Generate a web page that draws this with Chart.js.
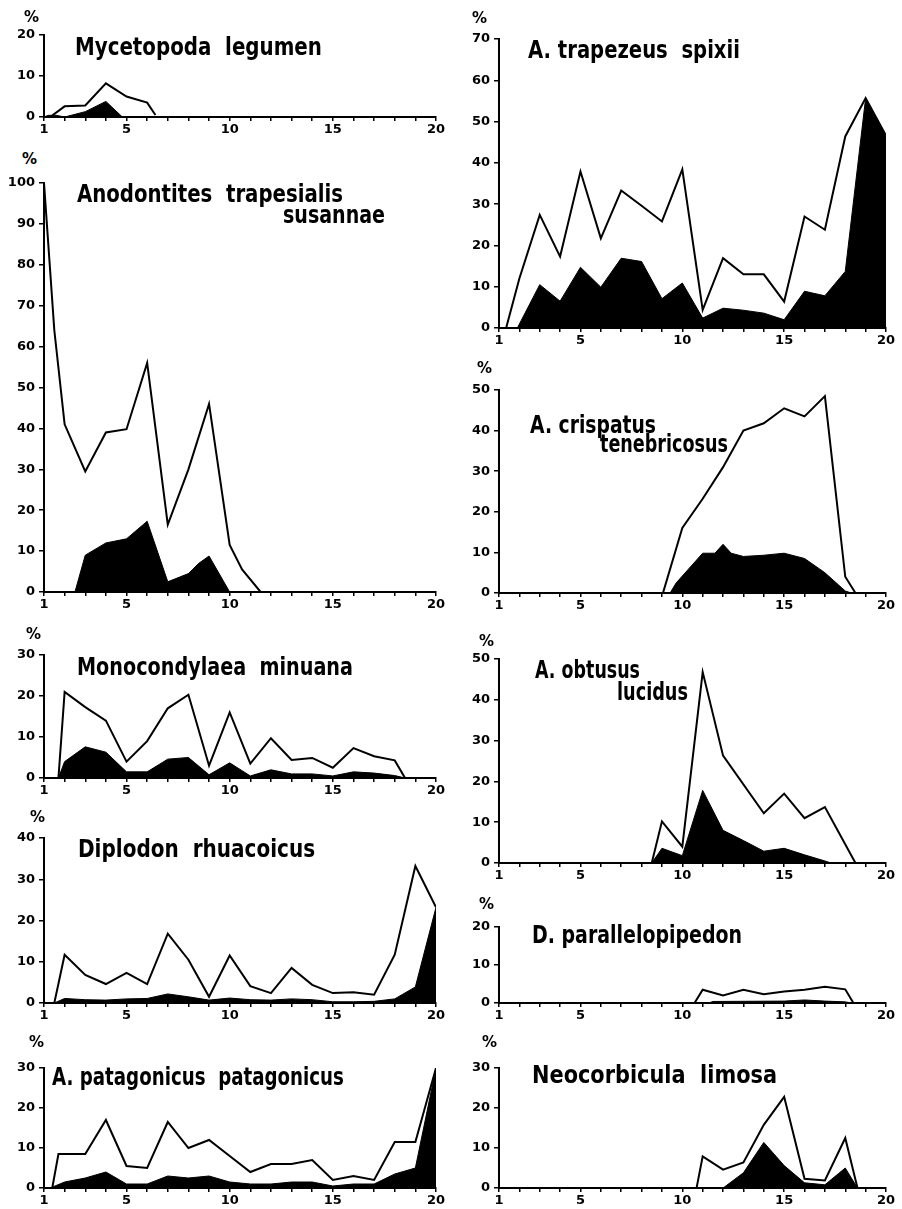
<!DOCTYPE html>
<html>
<head>
<meta charset="utf-8">
<script src="https://cdn.jsdelivr.net/npm/chart.js@4.4.0/dist/chart.umd.min.js"></script>
<style>
  body { margin: 0; background: #fff; width: 902px; height: 1209px; position: relative; overflow: hidden; }
  .panel { position: absolute; }
  .ttl { position: absolute; font-family: "DejaVu Sans Condensed", "DejaVu Sans", sans-serif; font-weight: bold;
         font-size: 24px; line-height: 24px; white-space: pre; color: #000; transform-origin: 0 0; }
  .pct { position: absolute; font: bold 15px "DejaVu Sans", sans-serif; color: #000; }
</style>
</head>
<body>
<script>
// ---- valores: [clase de talla, %] ----
const xTickLabels = [1, 5, 10, 15, 20];

const legumenTotal = [[1,0],[1.3,0],[2,2.6],[3,2.8],[4,8.2],[5,5],[6,3.5],[6.4,0.5]];
const legumenBlack = [[1,0],[1.2,0.4],[1.6,0.4],[2,0],[3,1.3],[4,3.8],[4.8,0]];

const anodTotal = [[1,100],[1.5,64],[2,41],[3,29.5],[4,39],[5,39.8],[6,56],[7,16.5],[8,30],[9,46],[10,11.5],[10.6,5.5],[11.5,0]];
const anodBlack = [[2.5,0],[3,9],[4,12],[5,13],[6,17.3],[7,2.5],[8,4.5],[8.5,7],[9,8.8],[10,0]];

const monoTotal = [[1,0],[1.7,0],[2,21],[3,17.3],[4,14],[5,4],[6,9],[7,17],[8,20.3],[9,3],[10,16],[11,3.5],[12,9.7],[13,4.4],[14,4.9],[15,2.5],[16,7.3],[17,5.3],[18,4.3],[18.5,0]];
const monoBlack = [[1.7,0],[2,4],[3,7.6],[4,6.3],[5,1.5],[6,1.5],[7,4.6],[8,5],[9,0.8],[10,3.7],[11,0.5],[12,2],[13,1],[14,1],[15,0.5],[16,1.5],[17,1.2],[18,0.6],[18.5,0]];

const diploTotal = [[1,0],[1.5,0],[2,11.7],[3,6.8],[4,4.6],[5,7.3],[6,4.6],[7,16.8],[8,10.5],[9,1.5],[10,11.5],[11,4.1],[12,2.4],[13,8.5],[14,4.4],[15,2.4],[16,2.6],[17,2],[18,11.7],[19,33.2],[20,23.2]];
const diploBlack = [[1.5,0],[2,1.1],[3,0.8],[4,0.7],[5,1],[6,1.1],[7,2.2],[8,1.5],[9,0.7],[10,1.2],[11,0.8],[12,0.7],[13,1],[14,0.8],[15,0.3],[16,0.3],[17,0.4],[18,1],[19,3.9],[20,23.2]];

const pataTotal = [[1,0],[1.4,0],[1.7,8.5],[3,8.5],[4,17],[5,5.5],[6,5],[7,16.5],[8,10],[9,12],[10,8],[11,4],[12,6],[13,6],[14,7],[15,2],[16,3],[17,2],[18,11.5],[19,11.5],[20,30]];
const pataBlack = [[1.3,0],[2,1.5],[3,2.5],[4,4],[5,1],[6,1],[7,3],[8,2.5],[9,3],[10,1.5],[11,1],[12,1],[13,1.5],[14,1.5],[15,0.5],[16,1],[17,1],[18,3.5],[19,5],[20,30]];

const trapTotal = [[1,0],[1.35,0],[2,12],[3,27.4],[4,17.3],[5,37.9],[6,21.7],[7,33.3],[8,29.6],[9,25.8],[10,38.4],[11,4.4],[12,16.9],[13,13],[14,13],[15,6.4],[16,27],[17,23.8],[18,46.4],[19,55.7],[20,46.6]];
const trapBlack = [[1.9,0],[3,10.5],[4,6.5],[5,14.7],[6,9.9],[7,16.9],[8,16.1],[9,7.1],[10,10.9],[11,2.4],[12,4.8],[13,4.3],[14,3.6],[15,2],[16,8.9],[17,7.8],[18,13.7],[19,55.7],[20,46.6]];

const crispTotal = [[1,0],[9.05,0],[10,16],[11,23.2],[12,31],[13,40],[14,41.8],[15,45.5],[16,43.5],[17,48.5],[18,4],[18.5,0]];
const crispBlack = [[9.4,0],[9.7,2.5],[11,9.8],[11.6,9.8],[12,12],[12.4,9.8],[13,9],[14,9.3],[15,9.8],[16,8.5],[17,5],[18,0.5],[18.3,0]];

const obtTotal = [[1,0],[8.5,0],[9,10.2],[10,4],[11,46.8],[12,26.3],[14,12.2],[15,17],[16,11],[17,13.7],[18.5,0]];
const obtBlack = [[8.5,0],[9,3.6],[10,1.8],[11,17.8],[12,8],[13,5.5],[14,2.9],[15,3.6],[16,2],[17,0.5],[17.3,0]];

const paraTotal = [[1,0],[10.6,0],[11,3.5],[12,2],[13,3.5],[14,2.3],[15,3],[16,3.5],[17,4.3],[18,3.6],[18.4,0]];
const paraBlack = [[11.3,0],[11.5,0.4],[15,0.5],[16,0.8],[17,0.5],[18,0.3],[18.3,0]];

const neoTotal = [[1,0],[10.7,0],[11,7.9],[12,4.6],[13,6.4],[14,15.8],[15,22.8],[16,2.3],[17,1.9],[18,12.5],[18.6,0]];
const neoBlack = [[12,0],[13,3.8],[14,11.4],[15,5.6],[16,1.3],[17,0.8],[18,5],[18.6,0]];

// ---- disposición de los 10 paneles ----
const panels = [
  { total: legumenTotal, black: legumenBlack, yMax: 20, x0: 44, x1: 436, top: 35, bottom: 117, pct: [24, 8],
    titles: [{ text: 'Mycetopoda  legumen', x: 75, base: 55, w: 247 }] },
  { total: anodTotal, black: anodBlack, yMax: 100, x0: 44, x1: 436, top: 183, bottom: 592, pct: [22, 150],
    titles: [{ text: 'Anodontites  trapesialis', x: 77, base: 202, w: 266 }, { text: 'susannae', x: 283, base: 223, w: 102 }] },
  { total: monoTotal, black: monoBlack, yMax: 30, x0: 44, x1: 436, top: 655, bottom: 778, pct: [26, 625],
    titles: [{ text: 'Monocondylaea  minuana', x: 77, base: 675, w: 276 }] },
  { total: diploTotal, black: diploBlack, yMax: 40, x0: 44, x1: 436, top: 838, bottom: 1003, pct: [30, 808],
    titles: [{ text: 'Diplodon  rhuacoicus', x: 78, base: 857, w: 237 }] },
  { total: pataTotal, black: pataBlack, yMax: 30, x0: 44, x1: 436, top: 1068, bottom: 1188, pct: [29, 1033],
    titles: [{ text: 'A. patagonicus  patagonicus', x: 52, base: 1085, w: 292 }] },
  { total: trapTotal, black: trapBlack, yMax: 70, x0: 499, x1: 886, top: 39, bottom: 328, pct: [472, 9],
    titles: [{ text: 'A. trapezeus  spixii', x: 528, base: 58, w: 212 }] },
  { total: crispTotal, black: crispBlack, yMax: 50, x0: 499, x1: 886, top: 390, bottom: 593, pct: [477, 359],
    titles: [{ text: 'A. crispatus', x: 530, base: 433, w: 126 }, { text: 'tenebricosus', x: 600, base: 452, w: 128 }] },
  { total: obtTotal, black: obtBlack, yMax: 50, x0: 499, x1: 886, top: 659, bottom: 863, pct: [479, 632],
    titles: [{ text: 'A. obtusus', x: 535, base: 678, w: 105 }, { text: 'lucidus', x: 617, base: 700, w: 71 }] },
  { total: paraTotal, black: paraBlack, yMax: 20, x0: 499, x1: 886, top: 927, bottom: 1003, pct: [479, 895],
    titles: [{ text: 'D. parallelopipedon', x: 532, base: 943, w: 210 }] },
  { total: neoTotal, black: neoBlack, yMax: 30, x0: 499, x1: 886, top: 1068, bottom: 1188, pct: [482, 1033],
    titles: [{ text: 'Neocorbicula  limosa', x: 532, base: 1083, w: 245 }] }
];

const PAD_L = 42, PAD_R = 14, PAD_T = 14, PAD_B = 26;
const tickFont = { family: 'DejaVu Sans', size: 13, weight: 'bold' };
const toXY = arr => arr.map(p => ({ x: p[0], y: p[1] }));

panels.forEach(p => {
  const canvas = document.createElement('canvas');
  const w = (p.x1 - p.x0) + PAD_L + PAD_R;
  const h = (p.bottom - p.top) + PAD_T + PAD_B;
  canvas.width = w; canvas.height = h;
  canvas.className = 'panel';
  canvas.style.left = (p.x0 - PAD_L) + 'px';
  canvas.style.top = (p.top - PAD_T) + 'px';
  canvas.style.width = w + 'px'; canvas.style.height = h + 'px';
  document.body.appendChild(canvas);

  new Chart(canvas, {
    type: 'line',
    data: {
      datasets: [
        { data: toXY(p.total), borderColor: '#000', borderWidth: 2, fill: false, pointRadius: 0, tension: 0 },
        { data: toXY(p.black), borderColor: '#000', borderWidth: 1, backgroundColor: '#000', fill: 'origin', pointRadius: 0, tension: 0 }
      ]
    },
    options: {
      responsive: false,
      animation: false,
      devicePixelRatio: 1,
      layout: { padding: { top: PAD_T, right: PAD_R, left: 0, bottom: 0 } },
      plugins: { legend: { display: false }, tooltip: { enabled: false } },
      scales: {
        x: {
          type: 'linear', min: 1, max: 20,
          afterFit: s => { s.height = PAD_B; },
          border: { display: true, color: '#000', width: 2 },
          grid: { drawOnChartArea: false, drawTicks: true, tickLength: 4, color: '#000', lineWidth: 1.5 },
          ticks: {
            stepSize: 1, autoSkip: false, maxRotation: 0, padding: 1, color: '#000', font: tickFont,
            callback: v => xTickLabels.includes(v) ? String(v) : ''
          }
        },
        y: {
          min: 0, max: p.yMax,
          afterFit: s => { s.width = PAD_L; },
          border: { display: true, color: '#000', width: 2 },
          grid: { drawOnChartArea: false, drawTicks: true, tickLength: 5, color: '#000', lineWidth: 1.5 },
          ticks: { stepSize: 10, padding: 4, color: '#000', font: tickFont }
        }
      }
    }
  });

  const pct = document.createElement('div');
  pct.className = 'pct';
  pct.textContent = '%';
  pct.style.left = p.pct[0] + 'px';
  pct.style.top = p.pct[1] + 'px';
  document.body.appendChild(pct);

  p.titles.forEach(t => {
    const el = document.createElement('div');
    el.className = 'ttl';
    el.textContent = t.text;
    el.style.left = t.x + 'px';
    el.style.top = (t.base - 20) + 'px';
    document.body.appendChild(el);
    const natural = el.getBoundingClientRect().width;
    el.style.transform = 'scaleX(' + (t.w / natural).toFixed(3) + ')';
  });
});
</script>
</body>
</html>
